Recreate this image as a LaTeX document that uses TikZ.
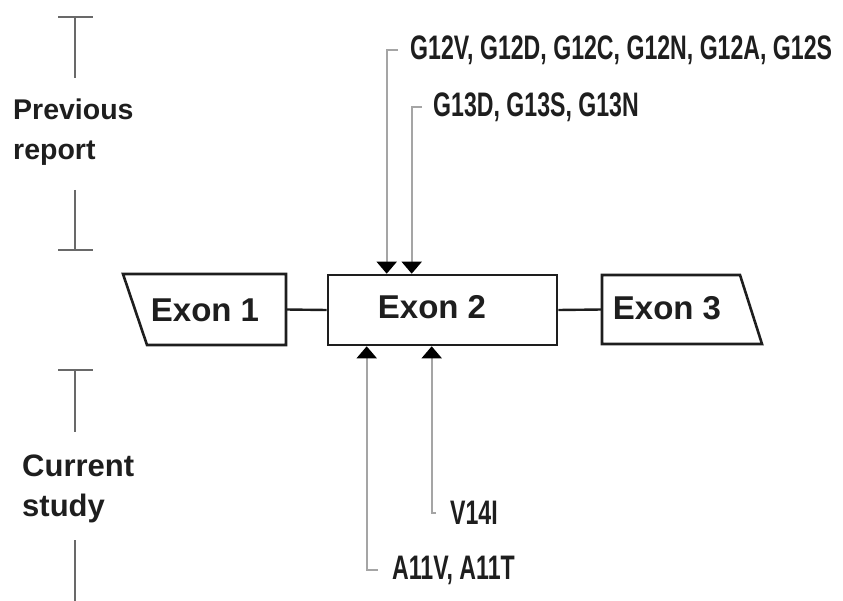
\documentclass[tikz,border=0pt]{standalone}
\usepackage{fontspec}
\setmainfont{Liberation Sans}
\newfontfamily\narrowfont{Liberation Sans}[FakeStretch=0.68]
\usepackage{xcolor}
\usetikzlibrary{arrows.meta, positioning, calc}
\definecolor{exonblack}{RGB}{30, 30, 30}
\definecolor{mutgray}{RGB}{165, 165, 165}
\definecolor{bargray}{RGB}{105, 105, 105}

\begin{document}
\begin{tikzpicture}[x=1pt, y=-1pt,
    exon/.style={draw=exonblack, line width=2.6pt, line join=miter},
    exonlabel/.style={font=\fontsize{33}{40}\selectfont\bfseries, text=exonblack, inner sep=0pt},
    mutlabel/.style={font=\narrowfont\fontsize{34}{40}\selectfont\bfseries, text=exonblack, anchor=west, inner sep=0pt},
    grouplabel/.style={font=\fontsize{#1}{40}\selectfont\bfseries, text=exonblack, align=left, anchor=west, inner sep=0pt},
    mut/.style={draw=mutgray, line width=1.8pt, -{Triangle[width=20pt, length=12pt, color=black]}},
    link/.style={draw=exonblack, line width=2.4pt},
    bar/.style={draw=bargray, line width=1.8pt}
]
\useasboundingbox (0,0) rectangle (843,601);

% Exon boxes
\node[exon, minimum width=229pt, minimum height=70pt, inner sep=0pt] (exon2) at (442.5,310) {};
\node[exonlabel] (exon2txt) at (432,307) {Exon 2};

\draw[exon] (123,274) -- (286,274) coordinate (e1tr) -- (286,345) coordinate (e1br) -- (147,345) -- cycle;
\coordinate (e1east) at ($(e1tr)!0.5!(e1br)$);
\node[exonlabel] (exon1txt) at (205,310) {Exon 1};

\draw[exon] (602,275) coordinate (e3tl) -- (740,275) -- (762,344) -- (602,344) coordinate (e3bl) -- cycle;
\coordinate (e3west) at ($(e3tl)!0.5!(e3bl)$);
\node[exonlabel] (exon3txt) at (667,308) {Exon 3};

% Introns
\draw[link] (e1east) -- (exon2.west);
\draw[link] (exon2.east) -- (e3west);

% Mutations, previous report
\node[mutlabel] (g12) at (410,50) {G12V, G12D, G12C, G12N, G12A, G12S};
\node[mutlabel] (g13) at (433,107) {G13D, G13S, G13N};
\coordinate (t12) at ($(exon2.north west)+(60,0)$);
\coordinate (t13) at ($(exon2.north west)+(85,0)$);
\draw[mut] ([xshift=-12pt]g12.west) -| (t12);
\draw[mut] ([xshift=-11pt]g13.west) -| (t13);

% Mutations, current study
\node[mutlabel] (a11) at (392,570) {A11V, A11T};
\node[mutlabel] (v14) at (450,513) {V14I};
\coordinate (b11) at ($(exon2.south west)+(40,0)$);
\coordinate (b14) at ($(exon2.south west)+(105,0)$);
\draw[mut] ([xshift=-14pt]a11.west) -| (b11);
\draw[mut] ([xshift=-14pt]v14.west) -| (b14);

% Group labels with range bars
\node[grouplabel=28.5] (prev) at (13,132) {Previous\\report};
\node[grouplabel=31] (curr) at (22,489) {Current\\study};
\draw[bar] (58,17) -- (93,17) (75,17) -- (75,78);
\draw[bar] (75,190) -- (75,250) (58,250) -- (93,250);
\draw[bar] (58,370) -- (93,370) (75,370) -- (75,432);
\draw[bar] (75,540) -- (75,601);

\end{tikzpicture}
\end{document}
